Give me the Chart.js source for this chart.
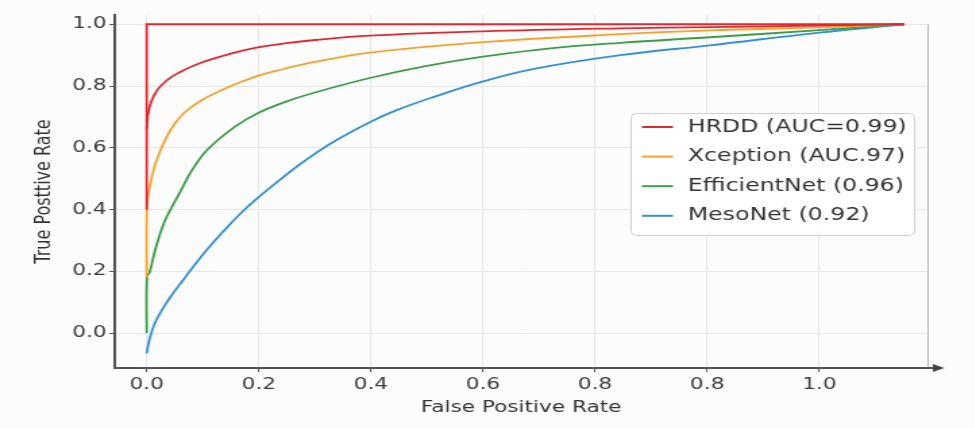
<!DOCTYPE html>
<html>
<head>
<meta charset="utf-8">
<script src="https://cdn.jsdelivr.net/npm/chart.js@4.4.1/dist/chart.umd.min.js"></script>
<style>
  html, body { margin: 0; padding: 0; background: #fcfcfc; overflow: hidden; }
  #wrap { width: 975px; height: 428px; overflow: hidden; }
  /* the source picture is stretched sideways, so the canvas is too */
  #roc { transform: scaleX(1.35); transform-origin: 0 0; }
</style>
</head>
<body>
<div id="wrap"><canvas id="roc" width="722" height="428"></canvas></div>
<script>
const seriesNames = ['HRDD (AUC=0.99)', 'Xception (AUC.97)', 'EfficientNet (0.96)', 'MesoNet (0.92)'];

const hrddFpr = [0, 0.002, 0.008, 0.02, 0.037, 0.055, 0.098, 0.157, 0.198, 0.246, 0.3, 0.398, 0.6, 0.845, 1.005, 1.2, 1.352];
const hrddTpr = [0.66, 0.705, 0.749, 0.79, 0.82, 0.841, 0.876, 0.908, 0.925, 0.938, 0.949, 0.963, 0.977, 0.987, 0.991, 0.996, 1.0];
const hrddStepFpr = [0, 0, 1.352];
const hrddStepTpr = [0.4, 1.0, 1.0];

const xceptionFpr = [0, 0.0005, 0.005, 0.014, 0.023, 0.037, 0.05, 0.068, 0.098, 0.145, 0.198, 0.246, 0.3, 0.398, 0.6, 0.845, 1.005, 1.2, 1.352];
const xceptionTpr = [0.18, 0.41, 0.47, 0.54, 0.585, 0.64, 0.678, 0.715, 0.754, 0.796, 0.833, 0.856, 0.878, 0.908, 0.942, 0.968, 0.98, 0.99, 1.0];

const efficientFpr = [0, 0.0005, 0.005, 0.011, 0.02, 0.032, 0.041, 0.059, 0.08, 0.109, 0.157, 0.198, 0.246, 0.3, 0.398, 0.5, 0.6, 0.72, 0.845, 1.005, 1.2, 1.352];
const efficientTpr = [0.0, 0.182, 0.196, 0.24, 0.3, 0.362, 0.395, 0.455, 0.525, 0.595, 0.668, 0.712, 0.748, 0.779, 0.826, 0.865, 0.895, 0.922, 0.94, 0.958, 0.981, 1.0];

const mesoFpr = [0, 0.005, 0.014, 0.03, 0.047, 0.065, 0.083, 0.107, 0.136, 0.166, 0.197, 0.238, 0.279, 0.332, 0.398, 0.446, 0.511, 0.6, 0.689, 0.845, 1.005, 1.2, 1.352];
const mesoTpr = [-0.066, -0.02, 0.03, 0.083, 0.129, 0.172, 0.215, 0.269, 0.328, 0.385, 0.436, 0.497, 0.554, 0.618, 0.683, 0.722, 0.764, 0.815, 0.855, 0.9, 0.932, 0.973, 1.0];

const xTickValues = [0, 0.2, 0.4, 0.6, 0.8, 1.0, 1.2];
const xTickLabels = ['0.0', '0.2', '0.4', '0.6', '0.8', '0.8', '1.0'];
const yTickValues = [0, 0.2, 0.4, 0.6, 0.8, 1.0];
const yTickLabels = ['0.0', '0.2', '0.4', '0.6', '0.8', '1.0'];

const colors = ['#e0282e', '#f7a22b', '#3c9c48', '#3390d8'];
const fontFamily = '"DejaVu Sans", Verdana, sans-serif';

function toPoints(xs, ys) {
    return xs.map((x, i) => ({ x: x, y: ys[i] }));
}

function lineSet(label, data, color, tension) {
    return {
        label: label,
        data: data,
        borderColor: color,
        backgroundColor: color,
        borderWidth: 1.8,
        pointRadius: 0,
        tension: tension,
        fill: false
    };
}

// legend box, arrow head and right frame line
const decorations = {
    id: 'decorations',
    afterDraw(chart) {
        const ctx = chart.ctx;
        const area = chart.chartArea;
        const yScale = chart.scales.y;

        ctx.save();
        // right frame
        ctx.strokeStyle = '#b5b5b5';
        ctx.lineWidth = 1;
        ctx.beginPath();
        ctx.moveTo(area.right + 0.5, yScale.getPixelForValue(1.0));
        ctx.lineTo(area.right + 0.5, area.bottom);
        ctx.stroke();

        // x axis arrow
        ctx.strokeStyle = '#555';
        ctx.fillStyle = '#444';
        ctx.lineWidth = 2;
        ctx.beginPath();
        ctx.moveTo(area.right - 2, area.bottom);
        ctx.lineTo(area.right + 6, area.bottom);
        ctx.stroke();
        ctx.beginPath();
        ctx.moveTo(area.right + 4, area.bottom - 4);
        ctx.lineTo(area.right + 12.5, area.bottom);
        ctx.lineTo(area.right + 4, area.bottom + 4);
        ctx.closePath();
        ctx.fill();

        // legend
        const box = { x: 467, y: 113, w: 210, h: 122 };
        ctx.fillStyle = 'rgba(255,255,255,0.92)';
        ctx.strokeStyle = '#cfcfcf';
        ctx.lineWidth = 1;
        ctx.beginPath();
        ctx.roundRect(box.x + 0.5, box.y + 0.5, box.w, box.h, 4);
        ctx.fill();
        ctx.stroke();

        ctx.font = '17.5px ' + fontFamily;
        ctx.textBaseline = 'middle';
        ctx.textAlign = 'left';
        seriesNames.forEach((name, i) => {
            const y = 127 + i * 29.6;
            ctx.strokeStyle = colors[i];
            ctx.lineWidth = 2;
            ctx.beginPath();
            ctx.moveTo(475.5, y);
            ctx.lineTo(498.5, y);
            ctx.stroke();
            ctx.fillStyle = '#333';
            ctx.fillText(name, 509.5, y);
        });
        ctx.restore();
    }
};

document.addEventListener('DOMContentLoaded', () => {
    const ctx = document.getElementById('roc').getContext('2d');

    new Chart(ctx, {
        type: 'line',
        data: {
            datasets: [
                lineSet(seriesNames[0], toPoints(hrddFpr, hrddTpr), colors[0], 0.4),
                lineSet('', toPoints(hrddStepFpr, hrddStepTpr), colors[0], 0),
                lineSet(seriesNames[1], toPoints(xceptionFpr, xceptionTpr), colors[1], 0.4),
                lineSet(seriesNames[2], toPoints(efficientFpr, efficientTpr), colors[2], 0.4),
                lineSet(seriesNames[3], toPoints(mesoFpr, mesoTpr), colors[3], 0.4)
            ]
        },
        options: {
            responsive: false,
            animation: false,
            devicePixelRatio: 1,
            layout: { padding: { top: 15, right: 35, bottom: 0, left: 0 } },
            plugins: {
                legend: { display: false },
                tooltip: { enabled: false }
            },
            scales: {
                x: {
                    type: 'linear',
                    min: -0.057,
                    max: 1.393,
                    afterFit(scale) { scale.height = 60; },
                    afterBuildTicks(scale) { scale.ticks = xTickValues.map(v => ({ value: v })); },
                    ticks: {
                        autoSkip: false,
                        maxRotation: 0,
                        padding: 3,
                        color: '#3a3a3a',
                        font: { family: fontFamily, size: 16 },
                        callback: (value, index) => xTickLabels[index]
                    },
                    grid: { color: '#e6e6e6', lineWidth: 1, tickColor: '#555', tickLength: 4 },
                    border: { color: '#555', width: 2 },
                    title: {
                        display: true,
                        text: 'False Positive Rate',
                        color: '#333',
                        font: { family: fontFamily, size: 16 },
                        padding: { top: 0, bottom: 11 }
                    }
                },
                y: {
                    type: 'linear',
                    min: -0.113,
                    max: 1.03,
                    afterFit(scale) { scale.width = 85; },
                    afterBuildTicks(scale) { scale.ticks = yTickValues.map(v => ({ value: v })); },
                    ticks: {
                        padding: 2,
                        color: '#3a3a3a',
                        font: { family: fontFamily, size: 16 },
                        callback: (value, index) => yTickLabels[index]
                    },
                    grid: { color: '#e6e6e6', lineWidth: 1, tickColor: '#555', tickLength: 4 },
                    border: { color: '#555', width: 2 },
                    title: {
                        display: true,
                        text: 'True Posttive Rate',
                        color: '#333',
                        font: { family: fontFamily, size: 16 },
                        padding: { top: 23, bottom: 0 }
                    }
                }
            }
        },
        plugins: [decorations]
    });
});
</script>
</body>
</html>
